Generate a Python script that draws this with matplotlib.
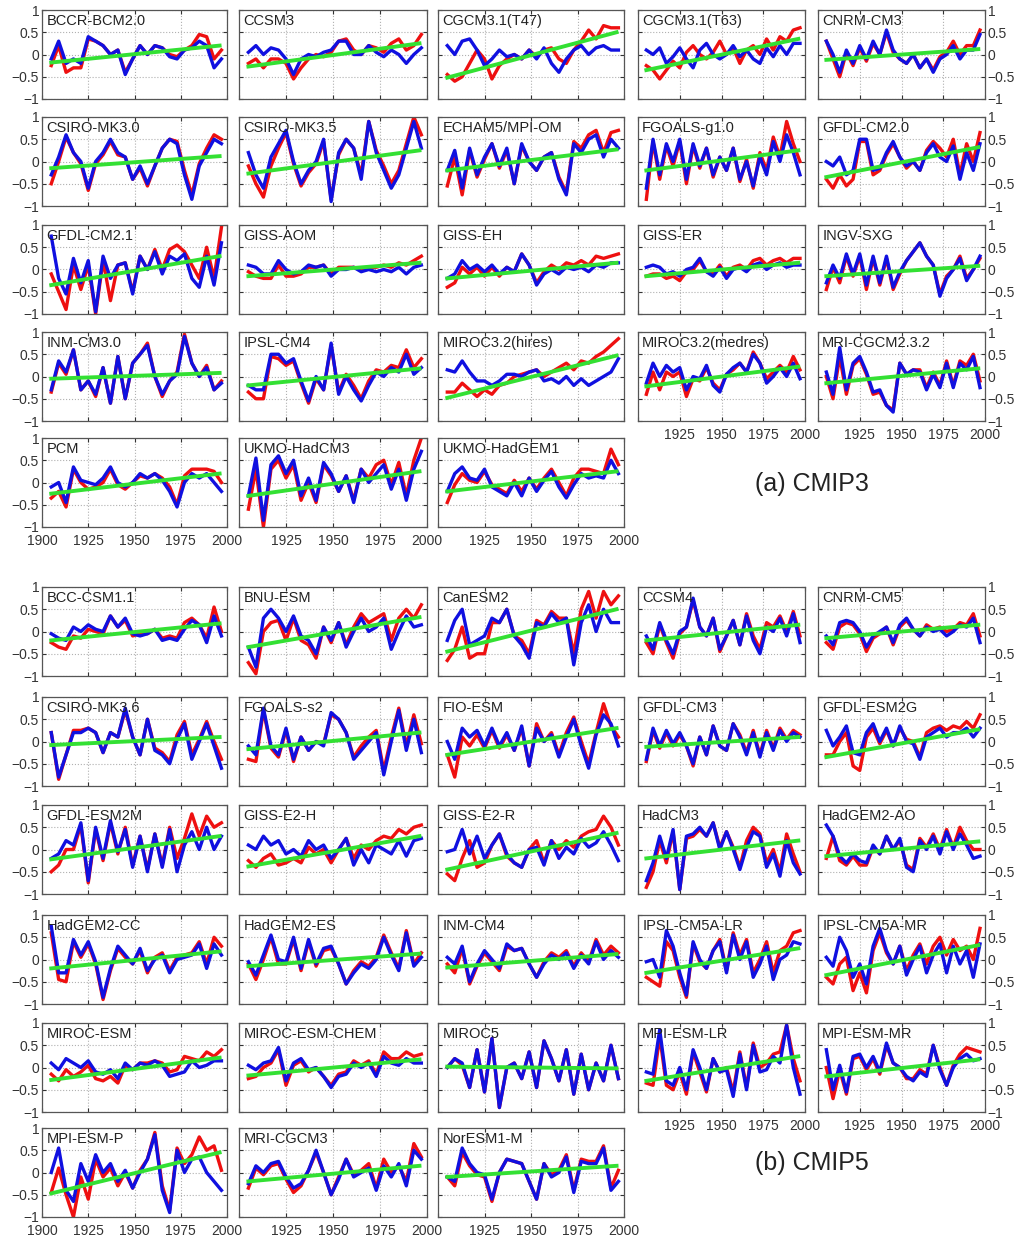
import numpy as np
import matplotlib
matplotlib.use("Agg")
import matplotlib.pyplot as plt

plt.rcParams['font.family'] = ['Liberation Sans', 'DejaVu Sans']

# sample years of the smoothed series (one value every 4 years)
years = np.arange(1905, 1998, 4)
trend_years = [1905, 1996]

# ---------------- CMIP3 ----------------
cmip3_names = ['BCCR-BCM2.0', 'CCSM3', 'CGCM3.1(T47)', 'CGCM3.1(T63)', 'CNRM-CM3',
               'CSIRO-MK3.0', 'CSIRO-MK3.5', 'ECHAM5/MPI-OM', 'FGOALS-g1.0', 'GFDL-CM2.0',
               'GFDL-CM2.1', 'GISS-AOM', 'GISS-EH', 'GISS-ER', 'INGV-SXG',
               'INM-CM3.0', 'IPSL-CM4', 'MIROC3.2(hires)', 'MIROC3.2(medres)', 'MRI-CGCM2.3.2',
               'PCM', 'UKMO-HadCM3', 'UKMO-HadGEM1']

cmip3_red = [
    [-0.25, 0.2, -0.4, -0.3, -0.3, 0.35, 0.3, 0.2, 0.0, 0.1, -0.4, -0.1, 0.2, 0.0, 0.2, 0.15, 0.0, -0.05, 0.1, 0.2, 0.45, 0.4, -0.1, 0.1],
    [-0.2, -0.1, -0.3, -0.1, -0.1, -0.2, -0.55, -0.3, -0.1, 0.0, -0.05, 0.05, 0.3, 0.35, 0.1, 0.0, 0.2, 0.15, 0.05, 0.25, 0.35, 0.1, 0.2, 0.45],
    [-0.45, -0.6, -0.5, -0.2, 0.1, -0.1, -0.55, -0.25, -0.1, 0.0, -0.1, 0.1, -0.05, 0.1, 0.15, -0.1, -0.2, 0.1, 0.3, 0.55, 0.35, 0.65, 0.6, 0.6],
    [-0.25, -0.35, -0.55, -0.35, -0.15, -0.3, 0.05, 0.2, 0.0, -0.1, 0.05, 0.3, 0.0, 0.15, -0.2, 0.1, 0.2, 0.0, 0.35, 0.1, 0.4, 0.3, 0.55, 0.6],
    [0.3, -0.1, -0.5, 0.05, -0.25, 0.15, -0.15, 0.25, 0.0, 0.5, 0.05, -0.1, -0.2, 0.0, -0.3, -0.1, -0.35, -0.05, 0.05, 0.3, 0.0, 0.2, 0.2, 0.55],
    [-0.5, 0.0, 0.55, 0.2, -0.05, -0.65, -0.05, 0.15, 0.45, 0.15, 0.1, -0.4, -0.15, -0.55, -0.1, 0.3, 0.5, 0.45, -0.2, -0.75, -0.05, 0.3, 0.6, 0.5],
    [-0.1, -0.5, -0.8, -0.1, 0.3, 0.65, -0.05, -0.55, -0.25, -0.05, 0.45, -0.85, 0.15, 0.5, 0.3, -0.3, 0.9, 0.25, -0.1, -0.5, -0.2, 0.4, 1.0, 0.6],
    [-0.55, 0.1, -0.75, 0.25, -0.35, 0.05, 0.4, -0.15, 0.25, -0.5, 0.35, 0.0, -0.2, 0.1, 0.2, -0.35, -0.7, 0.45, 0.3, 0.6, 0.7, 0.2, 0.65, 0.7],
    [-0.85, 0.45, -0.4, 0.35, -0.1, 0.45, -0.5, 0.35, -0.15, 0.3, -0.35, 0.1, -0.2, 0.3, -0.45, 0.05, -0.6, 0.2, -0.2, 0.55, 0.1, 0.9, 0.4, 0.0],
    [-0.4, -0.6, -0.3, -0.55, -0.4, 0.45, 0.45, -0.3, -0.2, 0.15, 0.4, 0.1, -0.15, 0.0, -0.2, 0.25, 0.45, 0.3, 0.1, 0.5, -0.3, 0.4, 0.0, 0.65],
    [-0.1, -0.5, -0.9, 0.1, -0.45, 0.1, -1.0, 0.2, -0.7, 0.1, 0.15, -0.5, 0.3, 0.0, 0.45, 0.0, 0.45, 0.55, 0.4, 0.1, -0.2, 0.5, -0.2, 0.95],
    [-0.05, -0.15, -0.2, -0.2, 0.1, -0.15, -0.15, -0.1, 0.05, 0.05, 0.1, -0.1, 0.05, 0.05, 0.05, 0.0, 0.05, 0.05, 0.1, 0.05, 0.15, 0.1, 0.2, 0.3],
    [-0.4, -0.3, 0.05, -0.1, 0.05, -0.15, 0.05, -0.15, 0.05, -0.05, 0.35, 0.1, -0.3, -0.05, 0.1, 0.0, 0.15, 0.1, 0.2, 0.1, 0.3, 0.25, 0.3, 0.35],
    [-0.15, -0.1, -0.1, -0.2, -0.15, -0.25, -0.05, 0.0, 0.2, -0.05, -0.1, 0.1, -0.15, 0.05, 0.1, 0.0, 0.2, 0.25, 0.1, 0.2, 0.25, 0.15, 0.25, 0.25],
    [-0.45, 0.05, -0.3, 0.3, -0.15, 0.3, -0.45, 0.25, -0.35, 0.25, -0.45, -0.1, 0.2, 0.4, 0.6, 0.3, 0.1, -0.55, -0.15, 0.0, 0.3, -0.2, 0.0, 0.25],
    [-0.35, 0.3, 0.05, 0.6, -0.3, -0.1, -0.45, 0.2, -0.6, 0.45, -0.5, 0.3, 0.5, 0.75, 0.0, -0.45, -0.1, 0.1, 0.95, 0.3, 0.0, 0.25, -0.3, -0.1],
    [-0.35, -0.5, -0.5, 0.45, 0.4, 0.25, 0.35, -0.15, -0.6, -0.05, -0.3, 0.7, -0.35, 0.05, -0.2, -0.5, -0.1, 0.15, 0.1, 0.25, 0.2, 0.6, 0.2, 0.4],
    [-0.35, -0.35, -0.15, -0.3, -0.45, -0.3, -0.4, -0.2, -0.15, 0.0, 0.05, 0.1, 0.15, 0.0, 0.1, 0.2, 0.3, 0.15, 0.35, 0.3, 0.45, 0.55, 0.7, 0.85],
    [-0.4, 0.1, -0.3, 0.1, 0.0, 0.1, -0.45, -0.05, -0.1, 0.2, -0.15, -0.3, 0.05, 0.15, 0.3, 0.1, 0.55, 0.3, -0.05, 0.1, 0.25, 0.1, 0.45, 0.15],
    [0.0, -0.5, 0.45, -0.4, 0.25, 0.4, 0.05, -0.4, -0.35, -0.65, -0.75, 0.3, 0.05, 0.15, 0.15, -0.25, 0.1, -0.2, 0.35, -0.2, 0.35, 0.25, 0.5, -0.1],
    [-0.35, -0.2, -0.55, 0.3, 0.0, -0.15, -0.1, 0.0, 0.3, -0.05, -0.15, 0.0, 0.15, 0.1, 0.2, 0.1, -0.1, -0.5, 0.15, 0.3, 0.3, 0.3, 0.25, 0.0],
    [-0.6, 0.3, -1.0, 0.3, 0.5, 0.1, 0.4, -0.4, 0.0, -0.45, 0.4, 0.15, -0.2, 0.15, -0.4, 0.3, 0.1, 0.4, 0.5, -0.05, 0.45, -0.3, 0.5, 1.0],
    [-0.45, -0.05, 0.2, 0.05, 0.0, 0.25, -0.05, -0.15, -0.25, 0.05, -0.2, 0.1, -0.15, 0.1, 0.3, 0.0, -0.3, 0.1, 0.3, 0.3, 0.25, 0.2, 0.75, 0.4],
]

cmip3_blue = [
    [-0.1, 0.3, -0.2, -0.1, -0.2, 0.4, 0.3, 0.2, 0.0, 0.1, -0.45, -0.1, 0.2, 0.0, 0.2, 0.15, -0.05, -0.1, 0.1, 0.15, 0.3, 0.2, -0.3, -0.1],
    [0.05, 0.2, 0.0, 0.15, 0.1, -0.1, -0.45, -0.1, 0.0, -0.05, 0.05, 0.1, 0.3, 0.3, 0.0, 0.0, 0.2, 0.05, -0.05, 0.1, 0.0, -0.2, 0.0, 0.15],
    [0.2, 0.0, 0.3, 0.35, 0.1, -0.25, -0.1, 0.1, -0.05, 0.0, -0.1, 0.1, -0.1, 0.15, -0.2, -0.4, -0.1, 0.1, 0.2, 0.0, 0.15, 0.2, 0.1, 0.1],
    [0.1, 0.0, 0.15, -0.2, -0.05, 0.15, -0.1, -0.3, 0.1, 0.25, 0.0, -0.1, 0.0, 0.2, -0.05, 0.1, -0.1, -0.2, 0.15, -0.05, 0.2, 0.0, 0.25, 0.25],
    [0.3, 0.0, -0.4, 0.1, -0.2, 0.2, -0.1, 0.3, 0.0, 0.55, 0.1, -0.1, -0.2, 0.0, -0.3, -0.1, -0.4, -0.1, 0.0, 0.2, -0.1, 0.1, 0.1, 0.45],
    [-0.3, 0.1, 0.6, 0.2, 0.0, -0.6, 0.0, 0.2, 0.5, 0.2, 0.1, -0.4, -0.1, -0.5, -0.1, 0.3, 0.5, 0.4, -0.3, -0.85, -0.1, 0.2, 0.5, 0.4],
    [0.2, -0.3, -0.6, 0.1, 0.4, 0.7, 0.0, -0.5, -0.2, 0.0, 0.5, -0.9, 0.2, 0.5, 0.3, -0.4, 0.9, 0.2, -0.2, -0.6, -0.3, 0.3, 0.9, 0.3],
    [-0.2, 0.25, -0.6, 0.3, -0.3, 0.1, 0.4, -0.1, 0.3, -0.5, 0.4, 0.0, -0.2, 0.1, 0.2, -0.4, -0.75, 0.4, 0.2, 0.5, 0.6, 0.1, 0.5, 0.3],
    [-0.6, 0.5, -0.3, 0.4, 0.0, 0.5, -0.4, 0.4, -0.1, 0.3, -0.3, 0.1, -0.2, 0.3, -0.4, 0.0, -0.55, 0.1, -0.3, 0.45, 0.0, 0.6, 0.2, -0.3],
    [0.0, -0.1, 0.1, -0.3, -0.2, 0.5, 0.5, -0.2, -0.15, 0.2, 0.45, 0.1, -0.1, 0.0, -0.2, 0.2, 0.4, 0.1, 0.0, 0.35, -0.4, 0.2, -0.2, 0.4],
    [0.75, -0.2, -0.55, 0.25, -0.3, 0.2, -0.95, 0.3, -0.2, 0.1, 0.15, -0.55, 0.3, 0.0, 0.4, -0.1, 0.3, 0.2, 0.35, -0.2, -0.4, 0.3, -0.35, 0.6],
    [0.1, 0.05, -0.1, -0.1, 0.2, 0.0, -0.1, -0.05, 0.1, 0.05, 0.1, -0.15, 0.0, 0.0, 0.05, -0.05, 0.0, -0.05, 0.0, -0.05, 0.05, -0.1, 0.05, 0.1],
    [-0.2, -0.1, 0.2, 0.0, 0.1, -0.05, 0.1, -0.1, 0.05, -0.05, 0.35, 0.1, -0.35, -0.1, 0.0, -0.1, 0.05, 0.0, 0.05, -0.05, 0.1, 0.05, 0.15, 0.15],
    [0.05, 0.1, 0.05, -0.1, -0.05, -0.15, 0.0, 0.05, 0.25, -0.05, -0.15, 0.05, -0.2, 0.0, 0.05, -0.05, 0.1, 0.15, 0.0, 0.1, 0.15, 0.05, 0.1, 0.1],
    [-0.3, 0.1, -0.2, 0.35, -0.1, 0.35, -0.35, 0.3, -0.3, 0.3, -0.4, -0.05, 0.2, 0.4, 0.6, 0.3, 0.1, -0.6, -0.2, 0.0, 0.25, -0.25, 0.0, 0.3],
    [-0.3, 0.35, 0.1, 0.6, -0.3, -0.1, -0.4, 0.2, -0.6, 0.45, -0.5, 0.3, 0.5, 0.7, 0.0, -0.4, -0.1, 0.05, 0.9, 0.3, 0.0, 0.2, -0.3, -0.15],
    [-0.2, -0.3, -0.3, 0.5, 0.5, 0.3, 0.4, -0.1, -0.55, 0.0, -0.3, 0.75, -0.4, 0.0, -0.3, -0.55, -0.2, 0.1, 0.0, 0.2, 0.1, 0.5, 0.05, 0.2],
    [0.15, 0.1, 0.35, 0.1, -0.1, -0.1, -0.2, -0.1, 0.05, 0.05, 0.0, 0.1, 0.15, -0.1, -0.05, -0.15, 0.0, -0.2, -0.05, -0.2, -0.1, 0.0, 0.1, 0.4],
    [-0.15, 0.3, 0.0, 0.25, 0.1, 0.2, -0.3, 0.0, -0.05, 0.25, -0.2, -0.35, 0.05, 0.2, 0.3, 0.1, 0.5, 0.3, -0.15, 0.0, 0.2, 0.0, 0.3, -0.05],
    [0.1, -0.4, 0.65, -0.3, 0.3, 0.45, 0.1, -0.35, -0.3, -0.65, -0.8, 0.3, 0.05, 0.15, 0.1, -0.3, 0.05, -0.25, 0.3, -0.25, 0.3, 0.15, 0.45, -0.25],
    [-0.1, 0.0, -0.45, 0.35, 0.05, 0.0, -0.05, 0.1, 0.35, 0.0, -0.1, 0.0, 0.2, 0.1, 0.2, 0.05, -0.2, -0.55, 0.0, 0.2, 0.1, 0.2, 0.0, -0.2],
    [-0.3, 0.55, -0.85, 0.4, 0.6, 0.2, 0.5, -0.3, 0.1, -0.4, 0.45, 0.2, -0.2, 0.15, -0.45, 0.3, 0.0, 0.2, 0.4, -0.15, 0.3, -0.4, 0.3, 0.7],
    [-0.2, 0.2, 0.35, 0.1, 0.05, 0.3, -0.1, -0.2, -0.3, 0.0, -0.3, 0.1, -0.2, 0.05, 0.25, -0.1, -0.35, -0.05, 0.2, 0.1, 0.15, 0.1, 0.5, 0.2],
]

cmip3_trend = [(-0.18, 0.2), (-0.27, 0.25), (-0.52, 0.5), (-0.35, 0.35), (-0.12, 0.12),
               (-0.15, 0.12), (-0.27, 0.25), (-0.2, 0.27), (-0.2, 0.25), (-0.35, 0.32),
               (-0.35, 0.3), (-0.15, 0.15), (-0.2, 0.15), (-0.15, 0.15), (-0.15, 0.08),
               (-0.05, 0.08), (-0.2, 0.18), (-0.48, 0.47), (-0.22, 0.22), (-0.15, 0.18),
               (-0.25, 0.2), (-0.3, 0.25), (-0.2, 0.25)]

# ---------------- CMIP5 ----------------
cmip5_names = ['BCC-CSM1.1', 'BNU-ESM', 'CanESM2', 'CCSM4', 'CNRM-CM5',
               'CSIRO-MK3.6', 'FGOALS-s2', 'FIO-ESM', 'GFDL-CM3', 'GFDL-ESM2G',
               'GFDL-ESM2M', 'GISS-E2-H', 'GISS-E2-R', 'HadCM3', 'HadGEM2-AO',
               'HadGEM2-CC', 'HadGEM2-ES', 'INM-CM4', 'IPSL-CM5A-LR', 'IPSL-CM5A-MR',
               'MIROC-ESM', 'MIROC-ESM-CHEM', 'MIROC5', 'MPI-ESM-LR', 'MPI-ESM-MR',
               'MPI-ESM-P', 'MRI-CGCM3', 'NorESM1-M']

cmip5_red = [
    [-0.25, -0.35, -0.4, -0.1, -0.15, 0.05, 0.0, -0.05, 0.35, 0.1, 0.25, -0.1, -0.05, -0.05, 0.05, -0.15, -0.1, -0.15, 0.2, 0.3, 0.15, -0.15, 0.55, 0.0],
    [-0.7, -0.95, 0.0, 0.2, 0.25, -0.2, 0.3, -0.2, -0.3, -0.6, 0.1, -0.25, 0.2, -0.3, 0.1, 0.4, 0.2, 0.3, 0.4, -0.2, 0.3, 0.5, 0.3, 0.6],
    [-0.65, -0.4, 0.1, -0.6, -0.5, -0.5, 0.2, 0.2, 0.5, -0.1, -0.2, -0.5, 0.25, 0.15, 0.45, 0.3, 0.3, -0.5, 0.5, 0.9, 0.3, 0.9, 0.6, 0.8],
    [-0.25, -0.5, 0.15, -0.25, -0.6, -0.05, 0.1, 0.7, 0.1, -0.1, 0.3, -0.45, -0.1, 0.25, -0.3, 0.4, -0.1, -0.4, 0.2, 0.1, 0.35, 0.0, 0.45, -0.1],
    [-0.25, -0.4, 0.1, 0.2, 0.15, -0.05, -0.45, -0.15, -0.05, 0.1, -0.3, 0.1, 0.25, 0.05, -0.1, 0.15, 0.05, 0.1, 0.0, 0.05, 0.2, 0.15, 0.4, -0.1],
    [0.2, -0.85, -0.3, 0.25, 0.25, 0.3, 0.2, -0.25, 0.2, 0.1, 0.7, 0.1, -0.3, 0.5, -0.15, -0.25, -0.45, 0.15, 0.45, -0.3, 0.05, 0.45, 0.0, -0.4],
    [-0.4, -0.45, 0.7, -0.15, -0.35, 0.25, -0.45, 0.1, -0.2, 0.0, -0.05, 0.6, 0.5, 0.2, -0.35, -0.1, 0.1, 0.25, -0.65, 0.1, 0.75, -0.1, 0.6, -0.05],
    [-0.3, -0.8, 0.1, -0.1, 0.15, -0.15, 0.25, -0.15, 0.15, -0.2, 0.3, -0.55, 0.4, 0.0, 0.2, -0.3, 0.2, 0.55, 0.0, -0.5, 0.2, 0.85, 0.35, 0.1],
    [-0.45, 0.25, -0.15, 0.2, -0.1, 0.15, -0.1, -0.55, 0.1, -0.3, 0.35, -0.1, -0.2, 0.4, 0.15, -0.25, 0.25, -0.3, 0.25, -0.15, 0.3, 0.05, 0.25, 0.15],
    [-0.3, -0.3, 0.0, 0.2, -0.55, -0.65, 0.1, 0.3, -0.05, 0.25, -0.1, 0.3, 0.05, 0.0, -0.35, 0.2, 0.3, 0.35, 0.25, 0.35, 0.3, 0.45, 0.3, 0.6],
    [-0.5, -0.35, 0.0, 0.0, 0.55, -0.75, 0.45, -0.25, 0.6, -0.1, 0.5, -0.35, 0.3, -0.45, 0.35, -0.35, 0.5, -0.2, 0.25, 0.8, 0.3, 0.75, 0.5, 0.6],
    [-0.25, -0.4, -0.2, -0.1, -0.35, -0.3, -0.2, -0.3, 0.05, -0.1, 0.0, -0.3, 0.0, 0.25, -0.2, 0.1, 0.0, 0.2, 0.3, 0.25, 0.45, 0.35, 0.5, 0.55],
    [-0.55, -0.7, -0.2, 0.2, -0.4, -0.3, 0.1, 0.35, -0.15, -0.3, -0.4, 0.0, 0.2, -0.3, 0.2, 0.0, 0.2, 0.05, 0.3, 0.4, 0.45, 0.75, 0.5, 0.1],
    [-0.85, -0.5, 0.2, -0.3, 0.4, -0.9, 0.25, 0.3, 0.45, 0.3, 0.6, 0.05, 0.4, 0.05, -0.4, 0.2, 0.5, 0.35, -0.3, 0.0, -0.5, 0.35, -0.1, -0.5],
    [-0.2, 0.3, -0.25, -0.35, -0.15, -0.35, -0.35, 0.05, -0.1, 0.3, 0.0, 0.2, -0.35, -0.45, 0.25, 0.05, 0.35, 0.0, 0.45, 0.05, 0.5, 0.2, 0.0, 0.0],
    [0.6, -0.45, -0.5, 0.4, 0.05, 0.35, -0.1, -0.9, -0.25, 0.25, 0.05, -0.1, 0.2, -0.3, 0.05, 0.15, -0.25, 0.05, 0.1, 0.15, 0.4, -0.1, 0.5, 0.3],
    [-0.1, -0.45, 0.0, 0.5, -0.1, -0.1, 0.45, -0.25, 0.4, -0.15, 0.2, 0.25, -0.1, -0.55, -0.25, -0.05, -0.15, 0.05, 0.55, 0.15, -0.2, 0.65, -0.1, 0.15],
    [-0.1, -0.3, 0.25, -0.55, -0.15, 0.15, -0.05, -0.25, 0.3, 0.2, 0.25, -0.1, -0.4, -0.05, 0.15, 0.05, 0.2, -0.15, 0.15, -0.05, 0.45, 0.1, 0.3, 0.15],
    [-0.4, -0.5, -0.6, 0.4, 0.2, -0.4, -0.85, 0.35, -0.05, -0.2, 0.2, 0.45, -0.25, 0.6, 0.1, 0.45, -0.3, 0.0, 0.4, -0.3, 0.2, 0.3, 0.6, 0.65],
    [-0.4, -0.55, -0.1, 0.05, -0.7, -0.3, -0.75, 0.2, 0.6, 0.15, -0.1, 0.3, -0.25, 0.1, 0.35, -0.1, 0.3, 0.5, 0.1, 0.45, 0.2, 0.3, 0.0, 0.7],
    [-0.15, -0.3, -0.05, -0.2, -0.1, 0.05, -0.25, -0.3, -0.2, -0.35, 0.05, -0.05, 0.1, 0.1, 0.15, 0.1, -0.1, -0.05, 0.25, 0.2, 0.15, 0.35, 0.25, 0.4],
    [-0.25, -0.2, 0.0, 0.1, 0.4, -0.4, 0.05, 0.15, -0.1, 0.0, -0.2, -0.4, -0.15, -0.1, 0.15, 0.05, 0.15, -0.15, 0.35, 0.2, 0.2, 0.35, 0.25, 0.3],
    [0.0, 0.2, 0.05, -0.45, 0.4, -0.55, 0.65, -0.9, 0.0, 0.1, -0.25, 0.35, -0.45, 0.6, 0.2, -0.3, 0.4, -0.6, 0.3, -0.5, 0.1, -0.3, 0.5, -0.25],
    [-0.35, -0.4, 0.7, -0.4, -0.5, -0.1, -0.6, 0.35, -0.1, -0.55, 0.2, -0.1, 0.0, -0.55, 0.35, -0.45, 0.55, 0.0, 0.1, 0.3, 0.35, 0.95, 0.2, -0.3],
    [0.0, -0.7, -0.05, -0.6, 0.2, 0.25, -0.05, 0.2, -0.15, 0.5, 0.1, 0.0, -0.25, -0.25, -0.05, -0.15, 0.5, 0.0, -0.4, 0.05, 0.3, 0.45, 0.4, 0.35],
    [-0.45, 0.1, -0.5, -1.0, -0.1, -0.6, 0.3, -0.1, 0.1, -0.3, 0.0, -0.35, 0.05, 0.3, 0.9, -0.3, -0.85, 0.55, 0.2, 0.4, 0.8, 0.5, 0.6, 0.05],
    [-0.35, 0.1, -0.05, 0.15, 0.2, -0.15, -0.45, -0.3, 0.05, 0.45, 0.0, -0.5, -0.1, 0.3, -0.05, 0.05, 0.2, -0.35, 0.3, 0.0, 0.15, -0.2, 0.65, 0.35],
    [-0.1, -0.3, 0.45, 0.15, -0.05, -0.1, -0.65, 0.0, 0.3, 0.25, 0.2, -0.2, -0.6, 0.2, -0.05, 0.05, 0.4, -0.4, 0.3, 0.25, 0.25, 0.6, -0.35, 0.05],
]

cmip5_blue = [
    [-0.05, -0.15, -0.2, 0.1, 0.0, 0.15, 0.05, 0.0, 0.35, 0.1, 0.3, -0.05, -0.1, -0.05, 0.05, -0.2, -0.15, -0.2, 0.05, 0.25, 0.15, -0.25, 0.35, -0.1],
    [-0.35, -0.8, 0.3, 0.5, 0.3, 0.0, 0.35, -0.1, -0.2, -0.5, 0.1, -0.2, 0.2, -0.35, 0.0, 0.3, 0.0, 0.1, 0.3, -0.4, 0.0, 0.35, 0.1, 0.15],
    [-0.2, 0.25, 0.5, -0.3, -0.2, -0.1, 0.3, 0.2, 0.5, -0.1, -0.3, -0.6, 0.2, 0.1, 0.4, 0.2, 0.3, -0.75, 0.2, 0.6, 0.0, 0.5, 0.2, 0.2],
    [-0.1, -0.4, 0.2, -0.2, -0.5, 0.0, 0.1, 0.75, 0.1, -0.1, 0.3, -0.4, -0.1, 0.25, -0.3, 0.35, -0.2, -0.5, 0.1, 0.0, 0.3, -0.1, 0.4, -0.25],
    [-0.1, -0.3, 0.2, 0.25, 0.2, 0.0, -0.35, -0.1, 0.0, 0.1, -0.25, 0.15, 0.3, 0.05, -0.1, 0.1, 0.0, 0.05, -0.1, 0.0, 0.15, 0.1, 0.3, -0.25],
    [0.2, -0.8, -0.3, 0.2, 0.2, 0.3, 0.2, -0.25, 0.2, 0.1, 0.75, 0.1, -0.3, 0.5, -0.2, -0.3, -0.5, 0.05, 0.4, -0.4, 0.0, 0.4, -0.1, -0.6],
    [-0.1, -0.3, 0.75, -0.1, -0.3, 0.3, -0.4, 0.1, -0.2, 0.0, -0.1, 0.65, 0.5, 0.2, -0.4, -0.2, 0.0, 0.2, -0.75, 0.0, 0.7, -0.2, 0.5, -0.25],
    [0.0, -0.4, 0.3, 0.1, 0.25, -0.1, 0.3, -0.1, 0.2, -0.2, 0.35, -0.55, 0.3, 0.0, 0.15, -0.35, 0.1, 0.5, -0.1, -0.6, 0.15, 0.6, 0.4, -0.1],
    [-0.4, 0.3, -0.1, 0.25, -0.05, 0.2, -0.1, -0.5, 0.1, -0.3, 0.35, -0.1, -0.2, 0.4, 0.1, -0.3, 0.2, -0.35, 0.2, -0.2, 0.25, 0.0, 0.2, 0.1],
    [0.25, -0.1, 0.1, 0.35, -0.25, -0.3, 0.2, 0.4, 0.0, 0.3, -0.1, 0.35, 0.0, -0.05, -0.4, 0.1, 0.2, 0.3, 0.1, 0.2, 0.2, 0.3, 0.1, 0.3],
    [-0.2, -0.1, 0.2, 0.1, 0.6, -0.7, 0.5, -0.2, 0.65, -0.05, 0.45, -0.4, 0.3, -0.5, 0.35, -0.4, 0.45, -0.5, 0.1, 0.4, 0.0, 0.5, 0.0, 0.3],
    [0.1, 0.0, 0.3, 0.1, 0.2, -0.1, 0.0, -0.15, 0.2, 0.0, 0.1, -0.2, 0.0, 0.25, -0.35, 0.0, -0.3, 0.1, 0.0, -0.1, 0.2, -0.15, 0.2, 0.25],
    [-0.05, 0.0, 0.45, -0.1, 0.3, -0.2, 0.1, 0.35, -0.1, -0.3, -0.4, 0.0, 0.05, -0.35, 0.2, -0.2, 0.05, -0.1, 0.25, 0.05, 0.15, 0.4, 0.1, -0.25],
    [-0.7, -0.3, 0.3, -0.2, 0.45, -0.9, 0.3, 0.35, 0.5, 0.3, 0.6, 0.0, 0.4, 0.0, -0.45, 0.05, 0.4, 0.3, -0.4, -0.1, -0.6, 0.2, -0.3, -0.55],
    [0.55, 0.3, -0.15, -0.3, -0.1, -0.25, -0.3, 0.1, -0.1, 0.3, 0.0, 0.25, -0.4, -0.5, 0.2, 0.0, 0.3, -0.1, 0.4, 0.0, 0.35, 0.1, -0.2, -0.15],
    [0.75, -0.3, -0.3, 0.45, 0.1, 0.4, -0.05, -0.85, -0.2, 0.3, 0.1, -0.1, 0.25, -0.25, 0.0, 0.1, -0.3, 0.0, 0.05, 0.1, 0.35, -0.2, 0.35, 0.1],
    [-0.05, -0.35, 0.1, 0.55, 0.0, -0.05, 0.5, -0.2, 0.45, -0.1, 0.25, 0.3, -0.1, -0.55, -0.3, -0.1, -0.2, 0.0, 0.5, 0.1, -0.25, 0.6, -0.15, 0.05],
    [0.05, -0.1, 0.3, -0.5, -0.1, 0.2, 0.0, -0.2, 0.35, 0.2, 0.25, -0.1, -0.4, -0.1, 0.1, 0.0, 0.15, -0.2, 0.1, -0.1, 0.4, 0.0, 0.2, 0.05],
    [-0.05, 0.0, -0.4, 0.65, 0.3, -0.3, -0.8, 0.4, 0.0, -0.2, 0.2, 0.4, -0.3, 0.55, 0.0, 0.4, -0.4, -0.1, 0.3, -0.45, 0.0, 0.1, 0.4, 0.35],
    [0.05, -0.15, 0.5, 0.2, -0.4, -0.1, -0.55, 0.3, 0.7, 0.2, -0.1, 0.3, -0.35, 0.0, 0.3, -0.3, 0.1, 0.35, -0.3, 0.3, -0.1, 0.2, -0.4, 0.35],
    [0.1, -0.05, 0.2, 0.1, 0.0, 0.15, -0.1, -0.15, -0.05, -0.25, 0.1, -0.05, 0.1, 0.05, 0.15, 0.05, -0.2, -0.15, -0.1, 0.15, 0.0, 0.05, 0.15, 0.15],
    [0.05, -0.05, 0.1, 0.15, 0.45, -0.3, 0.1, 0.2, -0.05, 0.0, -0.2, -0.45, -0.2, -0.15, 0.1, 0.0, 0.1, -0.2, 0.25, 0.1, 0.05, 0.2, 0.1, 0.1],
    [0.0, 0.2, 0.1, -0.45, 0.4, -0.55, 0.65, -0.9, 0.0, 0.1, -0.25, 0.35, -0.45, 0.6, 0.2, -0.3, 0.4, -0.6, 0.3, -0.5, 0.1, -0.3, 0.5, -0.25],
    [-0.1, -0.15, 0.85, -0.3, -0.4, 0.0, -0.5, 0.4, 0.0, -0.5, 0.2, -0.1, -0.05, -0.65, 0.3, -0.5, 0.5, -0.1, -0.05, 0.25, 0.1, 0.95, 0.0, -0.6],
    [0.4, -0.5, 0.05, -0.55, 0.25, 0.3, 0.0, 0.25, -0.1, 0.55, 0.1, 0.0, -0.2, -0.3, -0.1, -0.2, 0.5, -0.05, -0.4, 0.0, 0.2, 0.3, 0.15, 0.2],
    [0.0, 0.55, -0.4, -0.65, 0.2, -0.2, 0.4, 0.0, 0.2, -0.2, 0.05, -0.35, 0.0, 0.3, 0.85, -0.4, -0.9, 0.5, 0.0, 0.3, 0.35, 0.0, -0.2, -0.4],
    [-0.25, 0.15, 0.0, 0.2, 0.25, -0.1, -0.35, -0.25, 0.05, 0.5, 0.0, -0.5, -0.15, 0.3, -0.1, 0.0, 0.1, -0.4, 0.15, -0.1, 0.2, -0.3, 0.5, 0.3],
    [-0.1, -0.2, 0.55, 0.2, 0.0, -0.05, -0.6, 0.0, 0.3, 0.25, 0.2, -0.2, -0.6, 0.2, -0.1, 0.0, 0.35, -0.45, 0.25, 0.2, 0.2, 0.55, -0.4, -0.2],
]

cmip5_trend = [(-0.2, 0.18), (-0.35, 0.32), (-0.45, 0.5), (-0.2, 0.15), (-0.15, 0.15),
               (-0.08, 0.1), (-0.17, 0.2), (-0.3, 0.3), (-0.12, 0.1), (-0.35, 0.27),
               (-0.22, 0.3), (-0.38, 0.3), (-0.45, 0.37), (-0.2, 0.2), (-0.15, 0.18),
               (-0.2, 0.18), (-0.15, 0.13), (-0.18, 0.12), (-0.3, 0.25), (-0.35, 0.32),
               (-0.28, 0.22), (-0.18, 0.18), (0.02, -0.02), (-0.3, 0.25), (-0.2, 0.18),
               (-0.47, 0.45), (-0.2, 0.15), (-0.1, 0.15)]

xticks = [1900, 1925, 1950, 1975, 2000]
yticks = [-1, -0.5, 0, 0.5, 1]
ytick_labels = ['\u22121', '\u22120.5', '0', '0.5', '1']

# ---------------- layout (pixels) ----------------
W, H = 1021, 1240
col_x = [(42, 227), (239, 427), (438, 624), (638, 805), (818, 985)]
cmip3_tops = [10, 117, 225, 332, 438]
cmip5_tops = [587, 697, 805, 915, 1023, 1128]
ph = 89

fig = plt.figure(figsize=(W / 100, H / 100), dpi=100)


def draw_group(names, red, blue, trend, tops):
    n = len(names)
    for i in range(n):
        r, c = divmod(i, 5)
        x0, x1 = col_x[c]
        top = tops[r]
        ax = fig.add_axes([x0 / W, 1 - (top + ph) / H, (x1 - x0) / W, ph / H])
        ax.plot(years, red[i], color='#ee1010', lw=2.4, solid_joinstyle='round')
        ax.plot(years, blue[i], color='#1010e0', lw=2.4, solid_joinstyle='round')
        ax.plot(trend_years, trend[i], color='#33e033', lw=2.8)
        ax.set_xlim(1900, 2000)
        ax.set_ylim(-1, 1)
        ax.set_xticks(xticks)
        ax.set_yticks(yticks)
        ax.grid(True, ls=':', color='#b0b0b0', lw=0.8)
        ax.tick_params(direction='in', length=3, top=True, right=True,
                       labelsize=10, colors='#333333')
        ax.tick_params(axis='x', pad=5)
        ax.tick_params(axis='y', pad=2)
        for s in ax.spines.values():
            s.set_color('#555555')
            s.set_linewidth(0.9)
        # x labels only where no panel sits below
        below = i + 5 < n
        if below:
            ax.set_xticklabels([])
        else:
            labs = [str(t) for t in xticks]
            if c > 0:
                labs[0] = ''
            ax.set_xticklabels(labs)
        if c == 0:
            ax.set_yticklabels(ytick_labels)
        elif c == 4:
            ax.yaxis.tick_right()
            ax.tick_params(axis='y', left=True, direction='in')
            ax.set_yticklabels(ytick_labels)
        else:
            ax.set_yticklabels([])
        ax.text(0.025, 0.95, names[i], transform=ax.transAxes, ha='left', va='top',
                fontsize=10.5, color='#222222')


draw_group(cmip3_names, cmip3_red, cmip3_blue, cmip3_trend, cmip3_tops)
draw_group(cmip5_names, cmip5_red, cmip5_blue, cmip5_trend, cmip5_tops)

fig.text(812 / W, 1 - 484 / H, '(a) CMIP3', ha='center', va='center', fontsize=18, color='#222222')
fig.text(812 / W, 1 - 1163 / H, '(b) CMIP5', ha='center', va='center', fontsize=18, color='#222222')

fig.savefig('out.png', dpi=100)
